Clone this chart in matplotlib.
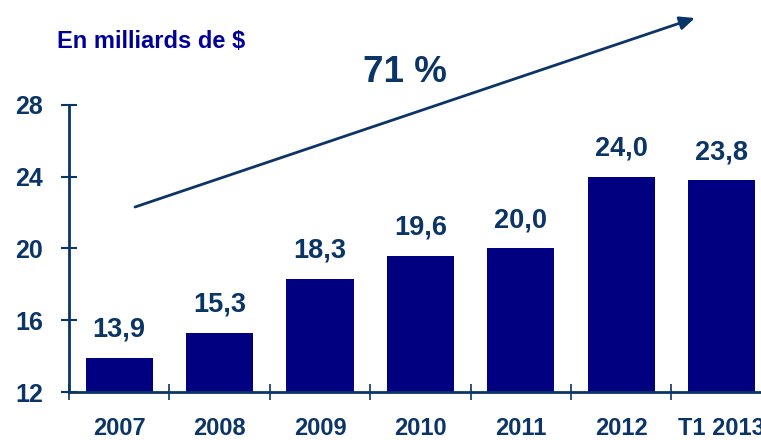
import matplotlib
matplotlib.use('Agg')
import matplotlib.pyplot as plt

periods = ['2007', '2008', '2009', '2010', '2011', '2012', 'T1 2013']
values = [13.9, 15.3, 18.3, 19.6, 20.0, 24.0, 23.8]
yticks = [12, 16, 20, 24, 28]

bar_col = '#000080'
txt_col = '#0a3566'

plt.rcParams['font.family'] = ['Liberation Sans', 'DejaVu Sans']
plt.rcParams['font.weight'] = 'bold'

W, H = 761, 440
fig = plt.figure(figsize=(W / 100, H / 100), dpi=100)
ax = fig.add_axes([69 / W, 48 / H, 1 - 69 / W, 287 / H])

x = list(range(len(periods)))
ax.bar(x, values, width=0.67, color=bar_col, zorder=2)
ax.set_xlim(-0.5, -0.5 + (W - 69) / 100.4)
ax.set_ylim(12, 28)

for xi, v in zip(x, values):
    ax.annotate(f'{v:.1f}'.replace('.', ','), (xi, v), xytext=(0, 11),
                textcoords='offset points', ha='center', va='bottom',
                fontsize=19.5, color=txt_col, fontweight='bold')

for s in ['top', 'right']:
    ax.spines[s].set_visible(False)
for s in ['left', 'bottom']:
    ax.spines[s].set_color(txt_col)
    ax.spines[s].set_linewidth(2)

ax.set_yticks(yticks)
ax.set_yticklabels([str(t) for t in yticks], fontsize=18, fontweight='bold')
ax.tick_params(axis='y', direction='inout', length=11, width=1.5,
               colors=txt_col, pad=13)
ax.set_xticks([i - 0.5 for i in x])
ax.set_xticklabels([])
ax.tick_params(axis='x', which='major', direction='inout', length=11,
               width=1.2, colors=txt_col)
ax.set_xticks(x, minor=True)
ax.set_xticklabels(periods, minor=True, fontsize=17, fontweight='bold')
ax.tick_params(axis='x', which='minor', length=0,
               labelcolor=txt_col, pad=18)

fig.text(57 / W, 1 - 42 / H, 'En milliards de $', color='#000099',
         fontsize=17, fontweight='bold', va='center', ha='left')
fig.text(405 / W, 1 - 72 / H, '71 %', color=txt_col, fontsize=26.5,
         fontweight='bold', va='center', ha='center')
ax.annotate('', xy=(695 / W, 1 - 18 / H), xytext=(135 / W, 1 - 207 / H),
            xycoords='figure fraction', textcoords='figure fraction',
            arrowprops=dict(arrowstyle='-|>,head_length=0.9,head_width=0.4',
                            color=txt_col, lw=2, shrinkA=0, shrinkB=0))

fig.savefig('out.png', dpi=100, facecolor='white')
